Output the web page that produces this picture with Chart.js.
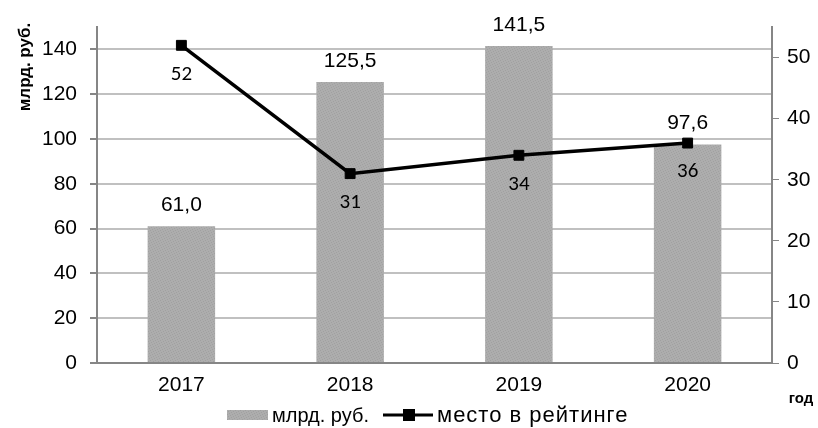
<!DOCTYPE html>
<html>
<head>
<meta charset="utf-8">
<script src="https://cdn.jsdelivr.net/npm/chart.js@4.4.1/dist/chart.umd.min.js"></script>
<style>
  html, body { margin: 0; padding: 0; background: #fff; }
  #wrap { width: 818px; height: 428px; position: relative; }
</style>
</head>
<body>
<div id="wrap"><canvas id="chart"></canvas></div>
<script>
  // ── Datos ──
  const YEARS = ["2017", "2018", "2019", "2020"];
  const VOLUME = [61.0, 125.5, 141.5, 97.6];     // млрд. руб.
  const RANK = [52, 31, 34, 36];                 // место в рейтинге
  const LEFT_TICKS = [0, 20, 40, 60, 80, 100, 120, 140];
  const RIGHT_TICKS = [0, 10, 20, 30, 40, 50];

  const AXIS = "#868686";
  const GRID = "#c0c0c0";
  const ARIAL = '"Liberation Sans", Arial, sans-serif';

  // Textura punteada para las barras
  function barPattern() {
    const c = document.createElement("canvas");
    c.width = 5; c.height = 5;
    const g = c.getContext("2d");
    g.fillStyle = "#adadad";
    g.fillRect(0, 0, 5, 5);
    g.fillStyle = "#a0a0a0";
    [[0, 0], [3, 1], [1, 2], [4, 3], [2, 4]].forEach(function (p) {
      g.fillRect(p[0], p[1], 1, 1);
    });
    return g.createPattern(c, "repeat");
  }

  function fmt(v) { return v.toFixed(1).replace(".", ","); }

  // Etiquetas de datos, títulos y leyenda
  const extras = {
    id: "extras",
    afterDatasetsDraw: function (chart) {
      const ctx = chart.ctx;
      ctx.save();
      ctx.fillStyle = "#000";
      ctx.textAlign = "center";
      ctx.textBaseline = "middle";
      ctx.font = "21px " + ARIAL;
      chart.getDatasetMeta(0).data.forEach(function (el, i) {
        ctx.fillText(fmt(VOLUME[i]), el.x, el.y - 21);
      });
      ctx.font = '21px Carlito, Lato, "Open Sans", sans-serif';
      chart.getDatasetMeta(1).data.forEach(function (el, i) {
        ctx.fillText(String(RANK[i]), el.x, el.y + 29);
      });
      ctx.restore();
    },
    afterDraw: function (chart) {
      const ctx = chart.ctx;
      ctx.save();
      ctx.fillStyle = "#000";
      ctx.font = "bold 17px " + ARIAL;
      ctx.textAlign = "center";
      ctx.textBaseline = "middle";
      // título eje Y
      ctx.save();
      ctx.translate(25, 67);
      ctx.rotate(-Math.PI / 2);
      ctx.fillText("млрд. руб.", 0, 0);
      ctx.restore();
      // "год"
      ctx.font = "bold 15px " + ARIAL;
      ctx.fillText("год", 801, 399);

      // leyenda
      const ly = 415;
      ctx.font = "20px " + ARIAL;
      ctx.textAlign = "left";
      ctx.fillStyle = chart.data.datasets[0].backgroundColor;
      ctx.fillRect(227, ly - 5, 41, 10);
      ctx.fillStyle = "#000";
      ctx.fillText("млрд. руб.", 272, ly + 1);
      ctx.strokeStyle = "#000";
      ctx.lineWidth = 3;
      ctx.beginPath();
      ctx.moveTo(383, ly);
      ctx.lineTo(433, ly);
      ctx.stroke();
      ctx.fillRect(403, ly - 6, 12, 12);
      ctx.font = "22px " + ARIAL;
      ctx.letterSpacing = "1px";
      ctx.fillText("место в рейтинге", 437, ly + 1);
      ctx.restore();
    }
  };

  new Chart(document.getElementById("chart"), {
    data: {
      labels: YEARS,
      datasets: [
        {
          type: "bar",
          label: "млрд. руб.",
          data: VOLUME,
          yAxisID: "y",
          backgroundColor: barPattern(),
          borderWidth: 0,
          barPercentage: 0.4,
          categoryPercentage: 1,
          order: 2
        },
        {
          type: "line",
          label: "место в рейтинге",
          data: RANK,
          yAxisID: "y1",
          borderColor: "#000",
          borderWidth: 3.5,
          pointStyle: "rect",
          pointRadius: 7,
          pointBorderWidth: 1,
          pointBackgroundColor: "#000",
          pointBorderColor: "#000",
          tension: 0,
          order: 1
        }
      ]
    },
    options: {
      responsive: true,
      maintainAspectRatio: false,
      animation: false,
      layout: { padding: { top: 27, left: 0, right: 0, bottom: 0 } },
      plugins: { legend: { display: false }, tooltip: { enabled: false } },
      scales: {
        x: {
          grid: { display: false, drawTicks: false },
          border: { color: AXIS, width: 2 },
          ticks: { color: "#000", padding: 10, font: { family: ARIAL, size: 21 } },
          afterFit: function (s) { s.height = 65; }
        },
        y: {
          position: "left",
          min: 0, max: 150,
          afterBuildTicks: function (s) { s.ticks = LEFT_TICKS.map(function (v) { return { value: v }; }); },
          grid: { color: GRID, lineWidth: 2, tickLength: 7, tickColor: AXIS },
          border: { color: AXIS, width: 2 },
          ticks: { color: "#000", padding: 13, font: { family: ARIAL, size: 21 } },
          afterFit: function (s) { s.width = 97; }
        },
        y1: {
          position: "right",
          min: 0, max: 55,
          afterBuildTicks: function (s) { s.ticks = RIGHT_TICKS.map(function (v) { return { value: v }; }); },
          grid: { drawOnChartArea: false, tickLength: 7, tickColor: AXIS },
          border: { color: AXIS, width: 2 },
          ticks: { color: "#000", padding: 8, font: { family: ARIAL, size: 21 } },
          afterFit: function (s) { s.width = 46; }
        }
      }
    },
    plugins: [extras]
  });
</script>
</body>
</html>
